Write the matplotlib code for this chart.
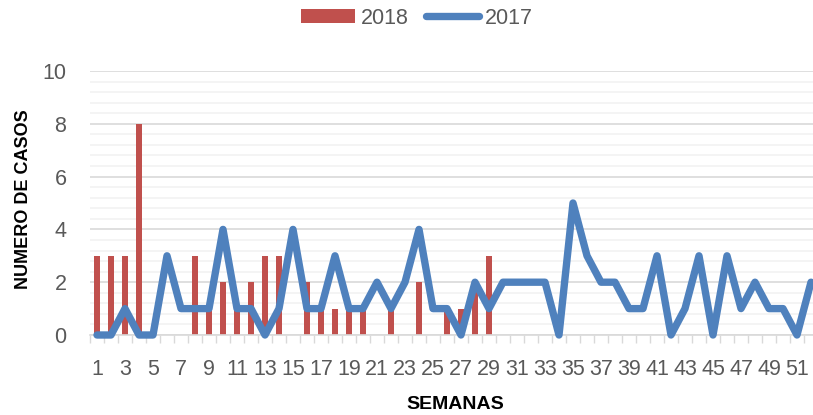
import numpy as np
import matplotlib
matplotlib.use("Agg")
import matplotlib.pyplot as plt
from matplotlib.ticker import MultipleLocator, FixedLocator

plt.rcParams["font.family"] = ["Liberation Sans", "DejaVu Sans"]

weeks = list(range(1, 53))
cases_2018 = [3, 3, 3, 8, 0, 0, 0, 3, 1, 2, 1, 2, 3, 3, 0, 2, 1, 1, 1, 1,
              0, 1, 0, 2, 0, 1, 1, 2, 3]
cases_2017 = [0, 0, 1, 0, 0, 3, 1, 1, 1, 4, 1, 1, 0, 1, 4, 1, 1, 3, 1, 1,
              2, 1, 2, 4, 1, 1, 0, 2, 1, 2, 2, 2, 2, 0, 5, 3, 2, 2, 1, 1,
              3, 0, 1, 3, 0, 3, 1, 2, 1, 1, 0, 2]
tick_labels = [str(w) for w in weeks[::2]]

RED = "#C0504D"
BLUE = "#4F81BD"
GREY = "#595959"

fig = plt.figure(figsize=(8.13, 4.15), dpi=100)
ax = fig.add_axes([90 / 813, 80 / 415, 728 / 813, 264 / 415])

bars = ax.bar(weeks[:len(cases_2018)], cases_2018, width=0.43, color=RED, label="2018", zorder=2)
line, = ax.plot(weeks, cases_2017, color=BLUE, linewidth=5.3, solid_joinstyle="round",
                solid_capstyle="round", label="2017", zorder=3, clip_on=False)

ax.set_xlim(0.5, 52.5)
ax.set_ylim(0, 10)

ax.yaxis.set_major_locator(MultipleLocator(2))
ax.yaxis.set_minor_locator(MultipleLocator(0.4))
ax.grid(which="major", axis="y", color="#D9D9D9", linewidth=1.2, zorder=0)
ax.grid(which="minor", axis="y", color="#F2F2F2", linewidth=1.2, zorder=0)
ax.set_axisbelow(True)

ax.xaxis.set_major_locator(FixedLocator(weeks[::2]))
ax.set_xticklabels(tick_labels)
ax.xaxis.set_minor_locator(FixedLocator(np.arange(0.5, 53, 1)))
ax.tick_params(axis="x", which="major", length=0, pad=17, labelsize=15.5, labelcolor=GREY)
ax.tick_params(axis="x", which="minor", length=6, color="#D9D9D9", width=1)
ax.tick_params(axis="y", which="both", length=0, pad=17, labelsize=15.5, labelcolor=GREY)

for side in ["top", "right", "left"]:
    ax.spines[side].set_visible(False)
ax.spines["bottom"].set_color("#D9D9D9")
ax.spines["bottom"].set_linewidth(1.2)

fig.text(455 / 813, 1 - 404 / 415, "SEMANAS", ha="center", va="center",
         fontsize=14, fontweight="bold", color="black")
fig.text(23 / 813, 1 - 199 / 415, "NUMERO DE CASOS", ha="center", va="center",
         rotation=90, fontsize=13, fontweight="bold", color="black")

fig.legend([bars, line], ["2018", "2017"], loc="center", bbox_to_anchor=(417 / 813, 1 - 18 / 415),
           ncol=2, frameon=False, fontsize=15.5, labelcolor=GREY, handlelength=2.5,
           handleheight=0.65, handletextpad=0.25, columnspacing=0.8)

fig.savefig("out.png", dpi=100)
